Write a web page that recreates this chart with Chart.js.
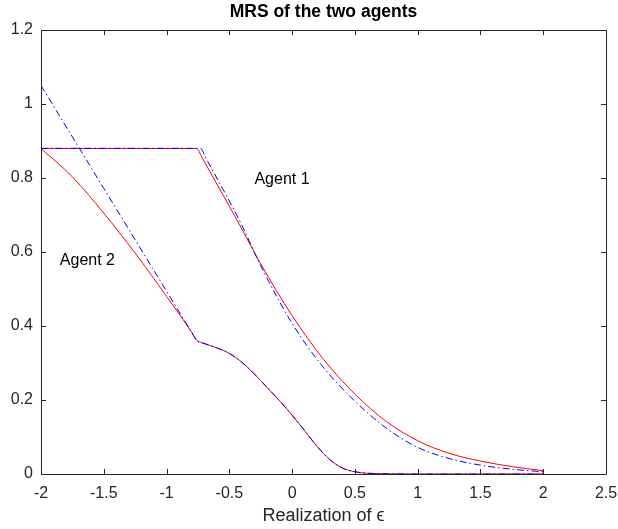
<!DOCTYPE html>
<html>
<head>
<meta charset="utf-8">
<script src="https://cdn.jsdelivr.net/npm/chart.js@4/dist/chart.umd.min.js"></script>
<style>
  html, body { margin: 0; padding: 0; background: #fff; }
  canvas { display: block; }
</style>
</head>
<body>
<canvas id="mrs" width="618" height="529"></canvas>
<script>
// values
// Agent 1: flat part then decline (red = solid, blue = dash-dot)
const agent1RedX = [-2, -0.76, -0.72, -0.6, -0.5, -0.4, -0.25, 0, 0.25, 0.5, 0.75, 1, 1.25, 1.5, 1.75, 2];
const agent1RedY = [0.88, 0.88, 0.857, 0.784, 0.724, 0.662, 0.568, 0.428, 0.31, 0.216, 0.142, 0.09, 0.056, 0.035, 0.02, 0.009];
const agent1BlueX = [-2, -0.73, -0.69, -0.6, -0.5, -0.4, -0.25, 0, 0.25, 0.5, 0.75, 1, 1.25, 1.5, 1.75, 2];
const agent1BlueY = [0.88, 0.88, 0.856, 0.8, 0.738, 0.672, 0.563, 0.407, 0.288, 0.197, 0.124, 0.072, 0.042, 0.024, 0.013, 0.006];

// Agent 2: head differs, tail is shared by both curves
const agent2RedHeadX = [-2, -1.75, -1.5, -1.25, -1, -0.8];
const agent2RedHeadY = [0.88, 0.803, 0.705, 0.597, 0.48, 0.383];
const agent2BlueHeadX = [-2, -1.5, -1, -0.8];
const agent2BlueHeadY = [1.05, 0.772, 0.494, 0.383];
const agent2TailX = [-0.76, -0.72, -0.6, -0.5, -0.4, -0.3, -0.2, -0.1, 0, 0.1, 0.2, 0.3, 0.4, 0.5, 0.6, 0.8, 1, 1.5, 2];
const agent2TailY = [0.361, 0.355, 0.341, 0.326, 0.302, 0.27, 0.234, 0.198, 0.159, 0.117, 0.074, 0.039, 0.016, 0.006, 0.002, 0.0005, 0, 0, 0];

// axes
const xTickValues = [-2, -1.5, -1, -0.5, 0, 0.5, 1, 1.5, 2, 2.5];
const yTickValues = [0, 0.2, 0.4, 0.6, 0.8, 1, 1.2];

// text labels inside the plot (data coordinates)
const noteTexts = ['Agent 1', 'Agent 2'];
const noteX = [-0.3, -1.85];
const noteY = [0.796, 0.578];

const AXIS_COLOR = '#262626';
const FONT = 'Liberation Sans, Arial, Helvetica, sans-serif';

function toPoints(xs, ys) {
  return xs.map((x, i) => ({ x: x, y: ys[i] }));
}

function lineSet(points, color, dashed, order) {
  return {
    data: points,
    borderColor: color,
    backgroundColor: color,
    borderWidth: 1,
    borderDash: dashed ? [7, 3, 1.5, 3] : [],
    pointRadius: 0,
    fill: false,
    cubicInterpolationMode: 'monotone',
    order: order
  };
}

// draws the box, the inward ticks and the two notes
const boxPlugin = {
  id: 'boxPlugin',
  afterDraw(chart) {
    const { ctx, chartArea: a, scales } = chart;
    const len = 5;
    ctx.save();
    ctx.setLineDash([]);
    ctx.strokeStyle = AXIS_COLOR;
    ctx.lineWidth = 1;
    ctx.beginPath();
    ctx.rect(Math.round(a.left) + 0.5, Math.round(a.top) + 0.5,
             Math.round(a.right - a.left), Math.round(a.bottom - a.top));
    ctx.stroke();
    xTickValues.forEach(v => {
      const px = Math.round(scales.x.getPixelForValue(v)) + 0.5;
      ctx.beginPath();
      ctx.moveTo(px, a.bottom); ctx.lineTo(px, a.bottom - len);
      ctx.moveTo(px, a.top); ctx.lineTo(px, a.top + len);
      ctx.stroke();
    });
    yTickValues.forEach(v => {
      const py = Math.round(scales.y.getPixelForValue(v)) + 0.5;
      ctx.beginPath();
      ctx.moveTo(a.left, py); ctx.lineTo(a.left + len, py);
      ctx.moveTo(a.right, py); ctx.lineTo(a.right - len, py);
      ctx.stroke();
    });

    ctx.fillStyle = '#000';
    ctx.font = '16px ' + FONT;
    ctx.textAlign = 'left';
    ctx.textBaseline = 'middle';
    noteTexts.forEach((t, i) => {
      ctx.fillText(t, scales.x.getPixelForValue(noteX[i]), scales.y.getPixelForValue(noteY[i]));
    });
    ctx.restore();
  }
};

new Chart(document.getElementById('mrs'), {
  type: 'line',
  data: {
    datasets: [
      lineSet(toPoints(agent1RedX, agent1RedY), '#ff0000', false, 4),
      lineSet(toPoints(agent2RedHeadX.concat(agent2TailX), agent2RedHeadY.concat(agent2TailY)), '#ff0000', false, 3),
      lineSet(toPoints(agent1BlueX, agent1BlueY), '#0000ff', true, 2),
      lineSet(toPoints(agent2BlueHeadX.concat(agent2TailX), agent2BlueHeadY.concat(agent2TailY)), '#0000ff', true, 1)
    ]
  },
  options: {
    responsive: false,
    animation: false,
    devicePixelRatio: 1,
    layout: { padding: { left: 0, right: 12, top: 0, bottom: 0 } },
    plugins: {
      legend: { display: false },
      tooltip: { enabled: false },
      title: {
        display: true,
        text: 'MRS of the two agents',
        fullSize: false,
        color: '#000',
        font: { family: FONT, size: 17.5, weight: 'bold', lineHeight: 1.2 },
        padding: { top: 2, bottom: 7 }
      }
    },
    scales: {
      x: {
        type: 'linear',
        min: -2,
        max: 2.5,
        grid: { display: false, drawTicks: false },
        border: { display: false },
        afterBuildTicks: s => { s.ticks = xTickValues.map(v => ({ value: v })); },
        afterFit: s => { s.height = 55; s.paddingLeft = 0; s.paddingRight = 0; },
        ticks: {
          padding: 10,
          maxRotation: 0,
          autoSkip: false,
          color: AXIS_COLOR,
          font: { family: FONT, size: 16 },
          callback: v => String(v)
        },
        title: {
          display: true,
          text: 'Realization of \u03F5',
          color: AXIS_COLOR,
          font: { family: FONT, size: 18 },
          padding: { top: 0, bottom: 2 }
        }
      },
      y: {
        min: 0,
        max: 1.2,
        grid: { display: false, drawTicks: false },
        border: { display: false },
        afterBuildTicks: s => { s.ticks = yTickValues.map(v => ({ value: v })); },
        afterFit: s => { s.width = 41; s.paddingTop = 0; s.paddingBottom = 0; },
        ticks: {
          padding: 8,
          autoSkip: false,
          color: AXIS_COLOR,
          font: { family: FONT, size: 16 },
          callback: v => String(Math.round(v * 10) / 10)
        }
      }
    }
  },
  plugins: [boxPlugin]
});
</script>
</body>
</html>
